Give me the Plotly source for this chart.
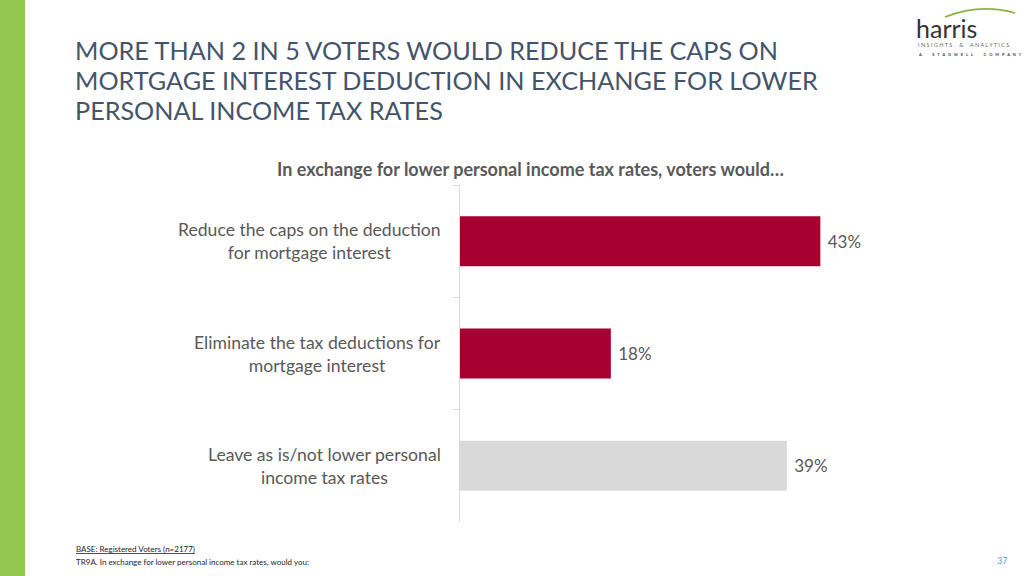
import plotly.graph_objects as go

categories = [
    "Reduce the caps on the deduction<br>for mortgage interest",
    "Eliminate the tax deductions for<br>mortgage interest",
    "Leave as is/not lower personal<br>income tax rates",
]
values = [43, 18, 39]
value_labels = ["\u00a043%", "\u00a018%", "\u00a039%"]
bar_colors = ["#A50030", "#A50030", "#D9D9D9"]
title_lines = [
    "MORE THAN 2 IN 5 VOTERS WOULD REDUCE THE CAPS ON",
    "MORTGAGE INTEREST DEDUCTION IN EXCHANGE FOR LOWER",
    "PERSONAL INCOME TAX RATES",
]

W, H = 1024, 576
def px(x):
    return x / W
def py(y):
    return 1 - y / H

FONT = "Lato"
GRAY = "#595959"
NB = "\u00a0"

def spaced(s, gap=1):
    out = []
    for ch in s:
        if ch == " ":
            out.append(NB * (gap + 2))
        else:
            out.append(ch)
    return (NB * gap).join(out)

fig = go.Figure()
fig.add_trace(go.Bar(
    y=categories, x=values, orientation="h",
    marker=dict(color=bar_colors, line=dict(width=0)),
    text=value_labels, textposition="outside",
    textfont=dict(family=FONT, size=17, color=GRAY),
    cliponaxis=False, width=0.445, hoverinfo="skip",
))

annotations = []
for c in categories:
    annotations.append(dict(
        x=px(443), xref="paper", y=c, yref="y", text=c, showarrow=False,
        xanchor="right", yanchor="middle", align="center",
        font=dict(family=FONT, size=17.6, color=GRAY),
    ))

# Title
for i, line in enumerate(title_lines):
    annotations.append(dict(
        x=px(73), y=py(50 + 30 * i), xref="paper", yref="paper", xanchor="left", yanchor="middle",
        showarrow=False, text=line,
        font=dict(family=FONT, size=25.2, color="#44546A"),
    ))
# Subtitle
annotations.append(dict(
    x=px(530), y=py(169), xref="paper", yref="paper", xanchor="center", yanchor="middle",
    showarrow=False,
    text="<b>In exchange for lower personal income tax rates, voters would…</b>",
    font=dict(family=FONT, size=18, color=GRAY),
))
# Footnotes
annotations.append(dict(
    x=px(74), y=py(549), xref="paper", yref="paper", xanchor="left", yanchor="middle",
    showarrow=False, text="<u>BASE: Registered Voters (n=2177)</u>",
    font=dict(family=FONT, size=8, color="#262626"),
))
annotations.append(dict(
    x=px(74), y=py(562), xref="paper", yref="paper", xanchor="left", yanchor="middle",
    showarrow=False, text="TR9A. In exchange for lower personal income tax rates, would you:",
    font=dict(family=FONT, size=8, color="#262626"),
))
annotations.append(dict(
    x=px(1002), y=py(560), xref="paper", yref="paper", xanchor="center", yanchor="middle",
    showarrow=False, text="37",
    font=dict(family=FONT, size=9, color="#4BACC6"),
))
# Logo
annotations.append(dict(
    x=px(914), y=py(28), xref="paper", yref="paper", xanchor="left", yanchor="middle",
    showarrow=False, text="harris",
    font=dict(family=FONT, size=25, color="#333333"),
))
annotations.append(dict(
    x=px(916), y=py(45), xref="paper", yref="paper", xanchor="left", yanchor="middle",
    showarrow=False, text=spaced("INSIGHTS & ANALYTICS", 1).replace("&", "&amp;"),
    font=dict(family=FONT, size=5.5, color="#666666"),
))
annotations.append(dict(
    x=px(916), y=py(54), xref="paper", yref="paper", xanchor="left", yanchor="middle",
    showarrow=False, text="<b>" + spaced("A STAGWELL COMPANY", 3) + "</b>",
    font=dict(family=FONT, size=4, color="#444444"),
))

shapes = [
    dict(type="rect", xref="paper", yref="paper", x0=0, x1=px(25), y0=0, y1=1,
         fillcolor="#92C84F", line=dict(width=0), layer="below"),
    dict(type="path", xref="paper", yref="paper",
         path=f"M {px(945)} {py(17)} Q {px(980)} {py(3)} {px(1015)} {py(13)}",
         line=dict(color="#8DB23E", width=1.6)),
]

fig.update_layout(
    width=W, height=H, margin=dict(l=0, r=0, t=0, b=0),
    paper_bgcolor="white", plot_bgcolor="white",
    showlegend=False, annotations=annotations, shapes=shapes,
    xaxis=dict(domain=[px(460), px(879)], range=[0, 50], visible=False),
    yaxis=dict(domain=[py(522), py(185)], autorange="reversed", showticklabels=False,
               showline=True, linecolor="#D9D9D9", linewidth=1,
               ticks="outside", tickson="boundaries", ticklen=6, tickcolor="#D9D9D9",
               showgrid=False, zeroline=False),
)

fig.write_html("out.html", config={"displayModeBar": False},
               post_script="document.body.style.margin='0';")
